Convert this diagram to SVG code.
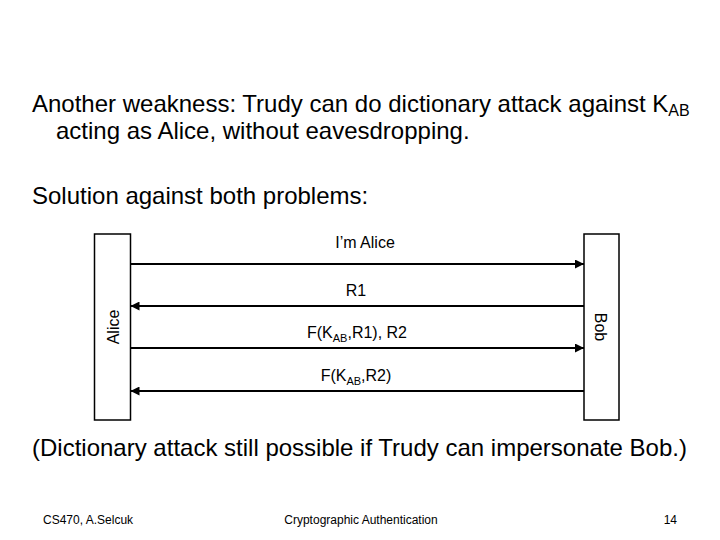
<svg xmlns="http://www.w3.org/2000/svg" width="720" height="540" viewBox="0 0 720 540">
<style>
  text { font-family: "Liberation Sans", Arial, sans-serif; fill: #000; }
  .big { font-size: 24px; }
  .lbl { font-size: 16px; text-anchor: middle; }
  .foot { font-size: 12px; }
  .box { fill: #fff; stroke: #000; stroke-width: 1.5; }
  .msg { stroke: #000; stroke-width: 2; fill: none; }
</style>
<defs>
  <marker id="ah" viewBox="0 0 10 10" refX="10" refY="5" markerWidth="4.5" markerHeight="4.5" orient="auto">
    <path d="M0,0 L10,5 L0,10 z" fill="#000"/>
  </marker>
</defs>
<rect width="720" height="540" fill="#fff"/>

<g id="title">
  <text class="big" x="32" y="112">Another weakness: Trudy can do dictionary attack against K<tspan font-size="16" dy="4">AB</tspan></text>
  <text class="big" x="56" y="139">acting as Alice, without eavesdropping.</text>
  <text class="big" x="32" y="204">Solution against both problems:</text>
</g>

<g id="alice">
  <rect class="box" x="94.5" y="234" width="36" height="186"/>
  <text class="lbl" font-size="17" transform="translate(119,327) rotate(-90)">Alice</text>
</g>
<g id="bob">
  <rect class="box" x="584" y="234" width="35" height="186"/>
  <text class="lbl" font-size="17" transform="translate(595,327) rotate(90)">Bob</text>
</g>

<g id="connectors">
  <line class="msg" x1="130.5" y1="264" x2="584" y2="264" marker-end="url(#ah)"/>
  <line class="msg" x1="584" y1="306" x2="130.5" y2="306" marker-end="url(#ah)"/>
  <line class="msg" x1="130.5" y1="348" x2="584" y2="348" marker-end="url(#ah)"/>
  <line class="msg" x1="584" y1="391" x2="130.5" y2="391" marker-end="url(#ah)"/>
  <text class="lbl" x="365" y="248">I’m Alice</text>
  <text class="lbl" x="356" y="296">R1</text>
  <text class="lbl" x="357" y="338">F(K<tspan font-size="11" dy="4">AB</tspan><tspan dy="-4">,R1), R2</tspan></text>
  <text class="lbl" x="356" y="381">F(K<tspan font-size="11" dy="4">AB</tspan><tspan dy="-4">,R2)</tspan></text>
</g>

<g id="note">
  <text class="big" x="32" y="456">(Dictionary attack still possible if Trudy can impersonate Bob.)</text>
</g>

<g id="footer">
  <text class="foot" x="43" y="524">CS470, A.Selcuk</text>
  <text class="foot" x="361" y="524" text-anchor="middle">Cryptographic Authentication</text>
  <text class="foot" x="677" y="524" text-anchor="end">14</text>
</g>
</svg>
